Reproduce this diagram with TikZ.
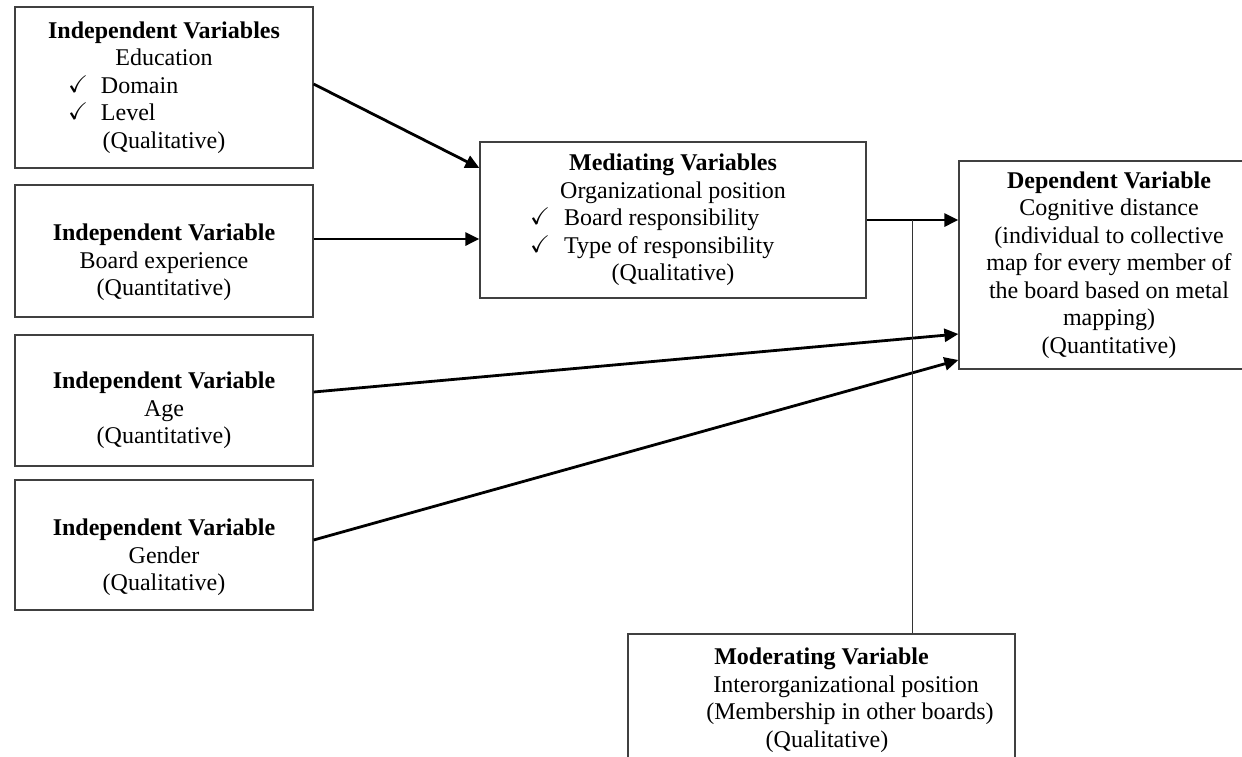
\documentclass[tikz,border=0pt]{standalone}
\usepackage{amsmath,amssymb}
\usepackage{fontspec}
\setmainfont{Liberation Serif}
\usepackage{tikz}
\usetikzlibrary{positioning,arrows.meta,calc}

% tick in front of a list item
\newcommand{\tickline}[3]{\makebox[#1][l]{\makebox[#2][l]{\raisebox{0.5pt}{$\checkmark$}}#3}}
% push the text down inside its box
\newcommand{\padtop}[1]{\rule{0pt}{#1}}

\begin{document}
\begin{tikzpicture}[x=0.5pt, y=-0.5pt, font=\fontsize{12}{13.75}\selectfont,
    varbox/.style={draw=black!75, line width=0.6pt, align=center, inner sep=0pt},
    arr/.style={-{Triangle[length=7pt, width=6.5pt]}, line width=1.4pt},
    modline/.style={line width=0.5pt, draw=black!80}]

% page frame
\useasboundingbox (0,0) rectangle (1242,756);
\clip (0,0) rectangle (1242,756);
\fill[white] (0,0) rectangle (1242,756);

% independent variables
\node[varbox, minimum width=149pt, minimum height=80.5pt] (edu) at (164,87.5)
    {\textbf{Independent Variables}\\ Education\\
     \tickline{96pt}{16.5pt}{Domain}\\ \tickline{96pt}{16.5pt}{Level}\\ (Qualitative)};
\node[varbox, minimum width=149pt, minimum height=66pt] (board) at (164,251)
    {\padtop{19.7pt}\textbf{Independent Variable}\\ Board experience\\ (Quantitative)};
\node[varbox, minimum width=149pt, minimum height=65.5pt] (age) at (164,400.5)
    {\padtop{18.2pt}\textbf{Independent Variable}\\ Age\\ (Quantitative)};
\node[varbox, minimum width=149pt, minimum height=65pt] (gender) at (164,545)
    {\padtop{20.7pt}\textbf{Independent Variable}\\ Gender\\ (Qualitative)};

% mediating, dependent and moderating variables
\node[varbox, minimum width=193pt, minimum height=78pt] (med) at (673,220)
    {\textbf{Mediating Variables}\\ Organizational position\\
     \tickline{143pt}{17pt}{Board responsibility}\\
     \tickline{143pt}{17pt}{Type of responsibility}\\ (Qualitative)};
\node[varbox, minimum width=150pt, minimum height=104pt] (dep) at (1109,265)
    {\textbf{Dependent Variable}\\ Cognitive distance\\ (individual to collective\\
     map for every member of\\ the board based on metal\\ mapping)\\ (Quantitative)};
\node[varbox, minimum width=193.5pt, minimum height=66pt] (mod) at (821.5,700)
    {\textbf{Moderating Variable}\\ \hspace*{24.5pt}Interorganizational position\\
     \hspace*{28.5pt}(Membership in other boards)\\ \hspace*{5.5pt}(Qualitative)};

% arrows
\draw[arr] ([yshift=1.75pt]edu.east) -- ([yshift=26pt]med.west);
\draw[arr] ([yshift=6pt]board.east) -- ([yshift=6pt]board.east -| med.west);
\draw[arr] (med.east) -- (med.east -| dep.west);
\draw[arr] ([yshift=4.25pt]age.east) -- ([yshift=-34.5pt]dep.west);
\draw[arr] ([yshift=2.5pt]gender.east) -- ([yshift=-47.5pt]dep.west);

% moderating line
\coordinate (j) at ($(med.east)!0.5!(med.east -| dep.west)$);
\draw[modline] (j) -- (j |- mod.north);
\end{tikzpicture}
\end{document}
